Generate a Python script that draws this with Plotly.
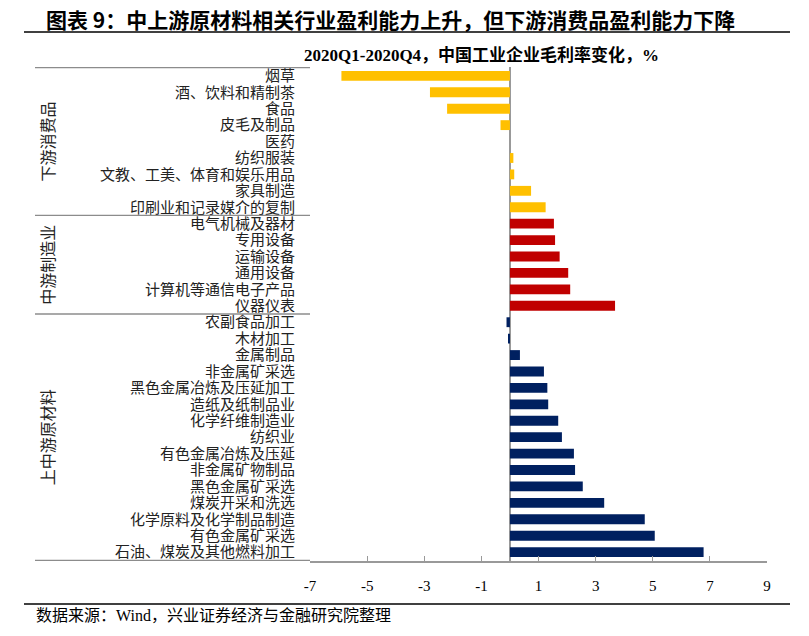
import plotly.graph_objects as go

# ---- data ----
consumer_cats = ["烟草", "酒、饮料和精制茶", "食品", "皮毛及制品", "医药", "纺织服装",
                 "文教、工美、体育和娱乐用品", "家具制造", "印刷业和记录媒介的复制"]
consumer_vals = [-5.9, -2.8, -2.2, -0.33, 0.0, 0.12, 0.15, 0.74, 1.25]

mfg_cats = ["电气机械及器材", "专用设备", "运输设备", "通用设备", "计算机等通信电子产品", "仪器仪表"]
mfg_vals = [1.54, 1.58, 1.74, 2.04, 2.11, 3.68]

raw_cats = ["农副食品加工", "木材加工", "金属制品", "非金属矿采选", "黑色金属冶炼及压延加工",
            "造纸及纸制品业", "化学纤维制造业", "纺织业", "有色金属冶炼及压延", "非金属矿物制品",
            "黑色金属矿采选", "煤炭开采和洗选", "化学原料及化学制品制造", "有色金属矿采选",
            "石油、煤炭及其他燃料加工"]
raw_vals = [-0.12, -0.05, 0.35, 1.19, 1.31, 1.34, 1.69, 1.82, 2.24, 2.28, 2.55, 3.30, 4.72, 5.07, 6.78]

group_names = ["下游消费品", "中游制造业", "上中游原材料"]
group_colors = ["#FFC000", "#C00000", "#002060"]
x_ticks = [-7, -5, -3, -1, 1, 3, 5, 7, 9]

title_text = "图表 9：中上游原材料相关行业盈利能力上升，但下游消费品盈利能力下降"
subtitle_text = "2020Q1-2020Q4，中国工业企业毛利率变化，%"
source_text = "数据来源：Wind，兴业证券经济与金融研究院整理"

# ---- figure geometry (reference pixel frame) ----
W, H = 809, 636
PL, PR, PT, PB = 310, 767, 67, 561
L, R, T, B = PL, W - PR, PT, H - PB
pw = PR - PL
ph = PB - PT

groups = [(consumer_cats, consumer_vals), (mfg_cats, mfg_vals), (raw_cats, raw_vals)]
all_cats = consumer_cats + mfg_cats + raw_cats

CJK = "Noto Sans CJK SC"
SERIF = "Liberation Serif, Times New Roman, serif"

fig = go.Figure()
for (cats, vals), name, col in zip(groups, group_names, group_colors):
    fig.add_trace(go.Bar(
        x=vals, y=cats, orientation="h", name=name,
        marker=dict(color=col, line=dict(width=0)),
        showlegend=False,
    ))

def px2paper_x(px):
    return (px - PL) / pw

def px2paper_y(py):
    return 1 - (py - PT) / ph

shapes = []
bounds = [-0.5]
acc = 0
for cats, _ in groups:
    acc += len(cats)
    bounds.append(acc - 0.5)
for b in bounds:
    shapes.append(dict(type="line", xref="paper", yref="y",
                       x0=px2paper_x(35), x1=0, y0=b, y1=b,
                       line=dict(color="#8c8c8c", width=1.3)))

annotations = []
start = 0
for (cats, _), name in zip(groups, group_names):
    mid = start + (len(cats) - 1) / 2
    annotations.append(dict(xref="paper", yref="y", x=px2paper_x(47), y=mid,
                            text=name, textangle=-90, showarrow=False,
                            xanchor="center", yanchor="middle",
                            font=dict(family=CJK, size=16, color="#222")))
    start += len(cats)

annotations.append(dict(xref="paper", yref="paper", x=px2paper_x(44), y=px2paper_y(19),
                        text="<b>" + title_text + "</b>", showarrow=False,
                        xanchor="left", yanchor="middle",
                        font=dict(family=CJK, size=21, color="#000")))
annotations.append(dict(xref="paper", yref="paper", x=px2paper_x(302), y=px2paper_y(55),
                        text="<b>" + subtitle_text + "</b>", showarrow=False,
                        xanchor="left", yanchor="middle",
                        font=dict(family=SERIF + ", " + CJK, size=17, color="#000")))
annotations.append(dict(xref="paper", yref="paper", x=px2paper_x(34), y=px2paper_y(615),
                        text=source_text, showarrow=False,
                        xanchor="left", yanchor="middle",
                        font=dict(family=SERIF + ", " + CJK, size=16, color="#000")))

shapes.append(dict(type="line", xref="paper", yref="paper",
                   x0=px2paper_x(24), x1=px2paper_x(790), y0=px2paper_y(32), y1=px2paper_y(32),
                   line=dict(color="#000", width=1.5)))
shapes.append(dict(type="line", xref="paper", yref="paper",
                   x0=px2paper_x(24), x1=px2paper_x(790), y0=px2paper_y(604), y1=px2paper_y(604),
                   line=dict(color="#000", width=1.5)))

fig.update_layout(
    width=W, height=H,
    margin=dict(l=L, r=R, t=T, b=B, autoexpand=False),
    paper_bgcolor="white", plot_bgcolor="white",
    bargap=0.4,
    shapes=shapes, annotations=annotations,
    xaxis=dict(range=[-7, 9], tickvals=x_ticks, ticktext=[str(v) for v in x_ticks],
               showgrid=False, zeroline=True, zerolinecolor="#999", zerolinewidth=1.5,
               showline=True, linecolor="#999", linewidth=1.5,
               ticks="inside", ticklen=5, tickcolor="#999", tickwidth=1.2,
               ticklabelstandoff=10,
               tickfont=dict(family=SERIF, size=15, color="#000")),
    yaxis=dict(categoryorder="array", categoryarray=all_cats, autorange="reversed",
               tickmode="array", tickvals=all_cats, ticktext=all_cats,
               showgrid=False, zeroline=False, showline=False, ticks="",
               ticklabelstandoff=14,
               tickfont=dict(family=CJK, size=15, color="#222")),
)

fig.write_html("out.html", config={"displayModeBar": False},
               post_script="document.body.style.margin='0';document.body.style.padding='0';")
